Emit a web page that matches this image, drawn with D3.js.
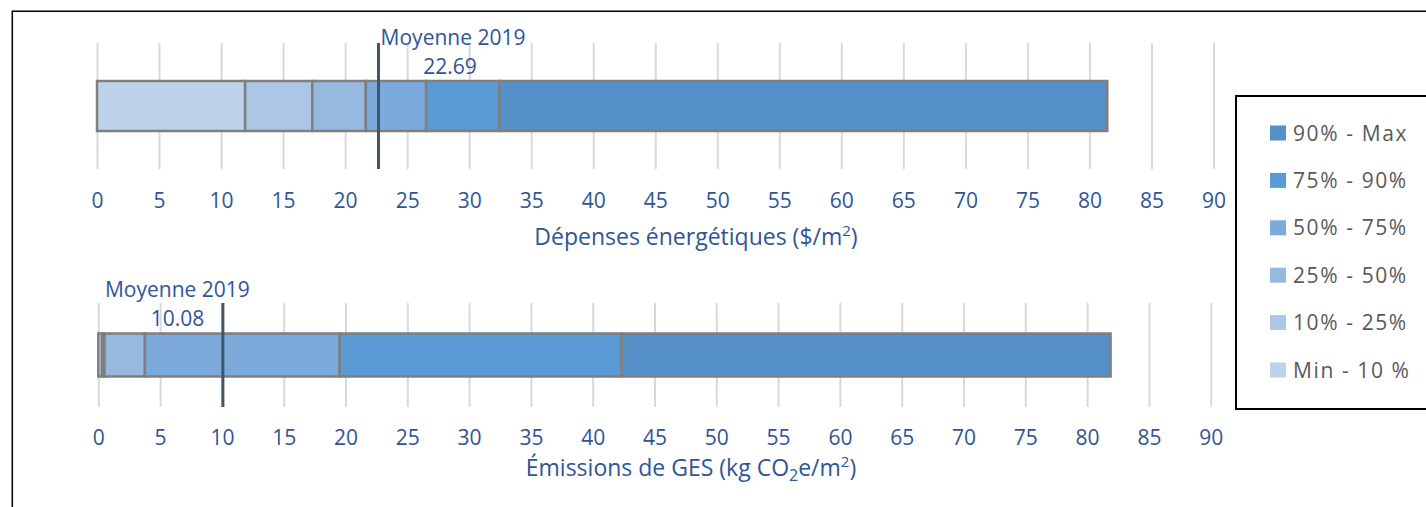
<!DOCTYPE html>
<html>
<head>
<meta charset="utf-8">
<script src="https://cdn.jsdelivr.net/npm/d3@7"></script>
<style>
  html, body { margin: 0; padding: 0; background: #fff; }
  svg { display: block; }
  text { font-family: "Open Sans", "Noto Sans", sans-serif; }
</style>
</head>
<body>
<svg id="chart" width="1426" height="507"></svg>
<script>
// ---- Data ----
const categories = ["Min - 10 %", "10% - 25%", "25% - 50%", "50% - 75%", "75% - 90%", "90% - Max"];
const depensesValues = [11.94, 5.41, 4.32, 4.86, 5.90, 49.01];   // $/m2 per segment
const emissionsValues = [0.30, 0.20, 3.27, 15.76, 22.81, 39.56]; // kg CO2e/m2 per segment
const depensesMean = 22.69;
const emissionsMean = 10.08;
const meanLabel = "Moyenne 2019";
const tickValues = [0, 5, 10, 15, 20, 25, 30, 35, 40, 45, 50, 55, 60, 65, 70, 75, 80, 85, 90];
const colors = ["#bfd2eb", "#aec6e6", "#97b8df", "#7caadb", "#5b9bd5", "#5590c8"];

const svg = d3.select("#chart");
const blue = "#2f5597";

// outer frame
svg.append("path").attr("d", "M12.3,507 L12.3,11.3 L1426,11.3")
  .attr("fill", "none").attr("stroke", "#000").attr("stroke-width", 1.5);

const color = d3.scaleOrdinal().domain(categories).range(colors);

function panel(cfg) {
  const x = d3.scaleLinear().domain([0, 90]).range(cfg.xRange);
  const y = d3.scaleBand().domain([cfg.name]).range(cfg.yRange).paddingInner(0).paddingOuter(cfg.pad);
  const g = svg.append("g");

  // gridlines + tick labels
  const axis = d3.axisBottom(x).tickValues(tickValues).tickSize(-(cfg.yRange[1] - cfg.yRange[0])).tickPadding(0);
  const ag = g.append("g").attr("transform", `translate(0,${cfg.yRange[1]})`).call(axis);
  ag.select(".domain").remove();
  ag.selectAll(".tick line").attr("stroke", "#d9d9d9").attr("stroke-width", 2);
  ag.selectAll(".tick text").attr("fill", blue).attr("font-size", 21)
    .attr("y", cfg.tickBaseline - cfg.yRange[1]).attr("dy", 0)
    .style("font-family", "'Open Sans', sans-serif");

  // stacked bar
  const row = {};
  categories.forEach((c, i) => row[c] = cfg.values[i]);
  const stacked = d3.stack().keys(categories)([row]);
  g.append("g").selectAll("rect").data(stacked).join("rect")
    .attr("x", d => x(d[0][0]))
    .attr("width", d => x(d[0][1]) - x(d[0][0]))
    .attr("y", y(cfg.name))
    .attr("height", y.bandwidth())
    .attr("fill", d => color(d.key))
    .attr("stroke", "#7f7f7f").attr("stroke-width", 2.5);

  // mean line
  g.append("line").attr("x1", x(cfg.mean)).attr("x2", x(cfg.mean))
    .attr("y1", cfg.yRange[0]).attr("y2", cfg.yRange[1])
    .attr("stroke", "#44546a").attr("stroke-width", 3);

  // mean labels
  g.append("text").attr("x", x(cfg.labelAt)).attr("y", cfg.labelBaseline)
    .attr("text-anchor", "middle").attr("fill", blue).attr("font-size", 21).text(meanLabel);
  g.append("text").attr("x", x(cfg.labelAt) + cfg.valueShift).attr("y", cfg.labelBaseline + 28.5)
    .attr("text-anchor", "middle").attr("fill", blue).attr("font-size", 21).text(cfg.mean.toFixed(2));

  // axis title
  const t = g.append("text").attr("x", cfg.titleX).attr("y", cfg.titleBaseline)
    .attr("text-anchor", "middle").attr("fill", blue).attr("font-size", cfg.titleSize);
  cfg.title(t);
}

panel({
  name: "Dépenses",
  values: depensesValues, mean: depensesMean,
  xRange: [97, 1213.5], yRange: [43, 169], pad: 0.76,
  tickBaseline: 208, labelAt: 28.7, labelBaseline: 45, valueShift: -3,
  titleX: 696, titleBaseline: 245, titleSize: 23,
  title: t => {
    t.append("tspan").text("Dépenses énergétiques ($/m");
    t.append("tspan").attr("font-size", 15).attr("dy", -9).text("2");
    t.append("tspan").attr("dy", 9).text(")");
  }
});

panel({
  name: "Émissions",
  values: emissionsValues, mean: emissionsMean,
  xRange: [98.3, 1210.7], yRange: [303, 407], pad: 0.71,
  tickBaseline: 444.5, labelAt: 6.4, labelBaseline: 297.3, valueShift: 0,
  titleX: 691, titleBaseline: 475.5, titleSize: 23,
  title: t => {
    t.append("tspan").text("Émissions de GES (kg CO");
    t.append("tspan").attr("font-size", 16).attr("dy", 5).text("2");
    t.append("tspan").attr("dy", -5).text("e/m");
    t.append("tspan").attr("font-size", 15).attr("dy", -9).text("2");
    t.append("tspan").attr("dy", 9).text(")");
  }
});

// legend
const lg = svg.append("g");
lg.append("rect").attr("x", 1236).attr("y", 96).attr("width", 260).attr("height", 313)
  .attr("fill", "#fff").attr("stroke", "#000").attr("stroke-width", 2);
const legendOrder = categories.slice().reverse();
const ly = d3.scalePoint().domain(legendOrder).range([133, 370]);
const items = lg.selectAll("g.item").data(legendOrder).join("g").attr("class", "item")
  .attr("transform", d => `translate(0,${ly(d)})`);
items.append("rect").attr("x", 1270).attr("y", -7.5).attr("width", 16).attr("height", 15)
  .attr("fill", d => color(d));
items.append("text").attr("x", 1293).attr("y", 7.5).attr("fill", "#595959")
  .attr("font-size", 21).attr("letter-spacing", 1.6).text(d => d);
</script>
</body>
</html>
